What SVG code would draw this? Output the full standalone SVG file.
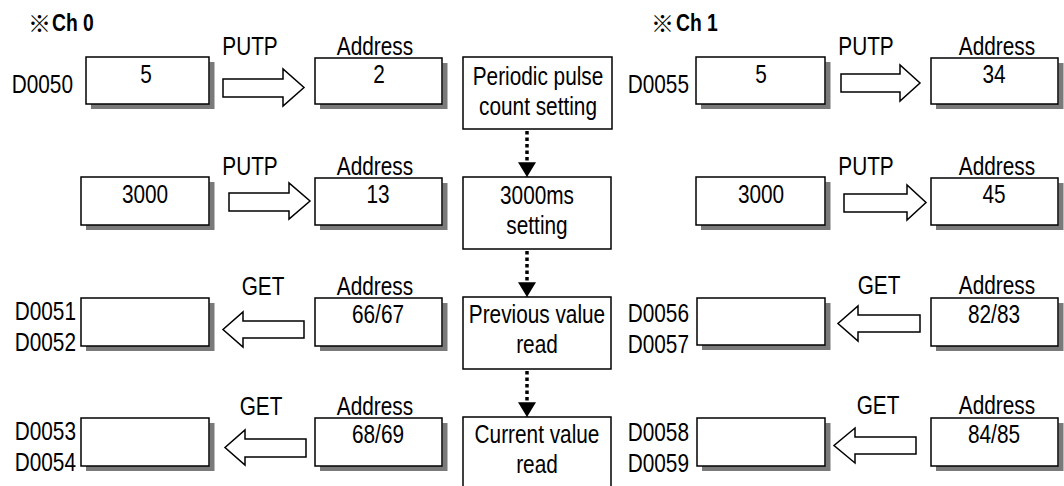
<svg xmlns="http://www.w3.org/2000/svg" width="1064" height="486" viewBox="0 0 1064 486">
<style>
.t{font-family:"Liberation Sans",Arial,sans-serif;font-size:26px;fill:#000}
.m{text-anchor:middle}
.e{text-anchor:end}
.b{font-weight:bold;font-size:23px}
.k{font-family:"Noto Sans CJK JP","Noto Sans CJK SC",sans-serif;font-size:23px;font-weight:bold;fill:#000}
.box{fill:#fff;stroke:#000;stroke-width:1.5}
.sd{fill:none;stroke:#7a7a7a;stroke-width:5}
.ar{fill:#fff;stroke:#000;stroke-width:1.5;stroke-linejoin:miter}
.dot{stroke:#000;stroke-width:3.5;stroke-dasharray:3.5 3;fill:none}
</style>
<defs>
<marker id="tri" markerUnits="userSpaceOnUse" markerWidth="16" markerHeight="18" refX="14" refY="8.5" orient="auto" viewBox="0 0 14 17">
<path d="M0,0 L14,8.5 L0,17 Z" fill="#000"/>
</marker>
</defs>
<rect width="1064" height="486" fill="#fff"/>

<g id="title0">
<text class="k" x="28" y="32">※</text>
<text class="t b" transform="translate(52 31) scale(0.84 1)">Ch 0</text>
</g>
<g id="title1">
<text class="k" x="651" y="32">※</text>
<text class="t b" transform="translate(676 31) scale(0.84 1)">Ch 1</text>
</g>

<!-- Ch 0 row 1 -->
<g id="d0050">
<path class="sd" d="M212,62 V106.5 H91"/>
<rect class="box" x="86" y="57" width="123" height="47"/>
<text class="t e" transform="translate(73 93) scale(0.8 1)">D0050</text>
<text class="t m" transform="translate(146 83) scale(0.8 1)">5</text>
</g>
<g id="addr2">
<path class="sd" d="M445,63 V106.5 H320"/>
<rect class="box" x="315" y="58" width="127" height="46"/>
<text class="t m" transform="translate(375 55) scale(0.8 1)">Address</text>
<text class="t m" transform="translate(379 83) scale(0.8 1)">2</text>
</g>
<!-- Ch 0 row 2 -->
<g id="v3000a">
<path class="sd" d="M212,182 V227.5 H86"/>
<rect class="box" x="81" y="177" width="128" height="48"/>
<text class="t m" transform="translate(145 203) scale(0.8 1)">3000</text>
</g>
<g id="addr13">
<path class="sd" d="M445,183 V227.5 H320"/>
<rect class="box" x="315" y="178" width="127" height="47"/>
<text class="t m" transform="translate(375 175) scale(0.8 1)">Address</text>
<text class="t m" transform="translate(378 203) scale(0.8 1)">13</text>
</g>
<!-- Ch 0 row 3 -->
<g id="d0051">
<path class="sd" d="M212,303 V348.5 H86"/>
<rect class="box" x="81" y="298" width="128" height="48"/>
<text class="t e" transform="translate(76 320) scale(0.8 1)">D0051</text>
<text class="t e" transform="translate(76 351) scale(0.8 1)">D0052</text>
</g>
<g id="addr66">
<path class="sd" d="M445,303 V348.5 H320"/>
<rect class="box" x="315" y="298" width="127" height="48"/>
<text class="t m" transform="translate(375 295) scale(0.8 1)">Address</text>
<text class="t m" transform="translate(378 323) scale(0.8 1)">66/67</text>
</g>
<!-- Ch 0 row 4 -->
<g id="d0053">
<path class="sd" d="M212,423 V468.5 H86"/>
<rect class="box" x="81" y="418" width="128" height="48"/>
<text class="t e" transform="translate(76 440) scale(0.8 1)">D0053</text>
<text class="t e" transform="translate(76 471) scale(0.8 1)">D0054</text>
</g>
<g id="addr68">
<path class="sd" d="M445,423 V468.5 H320"/>
<rect class="box" x="315" y="418" width="127" height="48"/>
<text class="t m" transform="translate(375 415) scale(0.8 1)">Address</text>
<text class="t m" transform="translate(378 443) scale(0.8 1)">68/69</text>
</g>

<!-- Process steps -->
<g id="step1">
<rect class="box" x="463" y="57" width="149" height="72"/>
<text class="t m" transform="translate(538 85) scale(0.8 1)">Periodic pulse</text>
<text class="t m" transform="translate(538 115) scale(0.8 1)">count setting</text>
</g>
<g id="step2">
<rect class="box" x="463" y="177" width="148" height="72"/>
<text class="t m" transform="translate(537 204) scale(0.8 1)">3000ms</text>
<text class="t m" transform="translate(537 234) scale(0.8 1)">setting</text>
</g>
<g id="step3">
<rect class="box" x="463" y="297" width="148" height="72"/>
<text class="t m" transform="translate(537 323) scale(0.8 1)">Previous value</text>
<text class="t m" transform="translate(537 353) scale(0.8 1)">read</text>
</g>
<g id="step4">
<rect class="box" x="463" y="417" width="148" height="72"/>
<text class="t m" transform="translate(537 443) scale(0.8 1)">Current value</text>
<text class="t m" transform="translate(537 473) scale(0.8 1)">read</text>
</g>

<!-- Ch 1 row 1 -->
<g id="d0055">
<path class="sd" d="M828,62 V106.5 H701"/>
<rect class="box" x="696" y="57" width="129" height="47"/>
<text class="t e" transform="translate(689 93) scale(0.8 1)">D0055</text>
<text class="t m" transform="translate(761 83) scale(0.8 1)">5</text>
</g>
<g id="addr34">
<path class="sd" d="M1061,63 V106.5 H936"/>
<rect class="box" x="931" y="58" width="127" height="46"/>
<text class="t m" transform="translate(997 55) scale(0.8 1)">Address</text>
<text class="t m" transform="translate(994 83) scale(0.8 1)">34</text>
</g>
<!-- Ch 1 row 2 -->
<g id="v3000b">
<path class="sd" d="M828,182 V227.5 H701"/>
<rect class="box" x="696" y="177" width="129" height="48"/>
<text class="t m" transform="translate(761 203) scale(0.8 1)">3000</text>
</g>
<g id="addr45">
<path class="sd" d="M1061,183 V227.5 H936"/>
<rect class="box" x="931" y="178" width="127" height="47"/>
<text class="t m" transform="translate(997 175) scale(0.8 1)">Address</text>
<text class="t m" transform="translate(994 203) scale(0.8 1)">45</text>
</g>
<!-- Ch 1 row 3 -->
<g id="d0056">
<path class="sd" d="M828,303 V347.5 H702"/>
<rect class="box" x="697" y="298" width="128" height="47"/>
<text class="t e" transform="translate(689 322) scale(0.8 1)">D0056</text>
<text class="t e" transform="translate(689 353) scale(0.8 1)">D0057</text>
</g>
<g id="addr82">
<path class="sd" d="M1061,303 V348.5 H936"/>
<rect class="box" x="931" y="298" width="127" height="48"/>
<text class="t m" transform="translate(997 294) scale(0.8 1)">Address</text>
<text class="t m" transform="translate(994 323) scale(0.8 1)">82/83</text>
</g>
<!-- Ch 1 row 4 -->
<g id="d0058">
<path class="sd" d="M828,423 V468.5 H702"/>
<rect class="box" x="697" y="418" width="128" height="48"/>
<text class="t e" transform="translate(689 441) scale(0.8 1)">D0058</text>
<text class="t e" transform="translate(689 472) scale(0.8 1)">D0059</text>
</g>
<g id="addr84">
<path class="sd" d="M1061,423 V468.5 H936"/>
<rect class="box" x="931" y="418" width="127" height="48"/>
<text class="t m" transform="translate(997 414) scale(0.8 1)">Address</text>
<text class="t m" transform="translate(994 443) scale(0.8 1)">84/85</text>
</g>

<g id="connectors">
<!-- PUTP / GET block arrows -->
<polygon class="ar" points="223,79 283,79 283,69 304,87.5 283,106 283,97 223,97"/>
<text class="t m" transform="translate(250 55) scale(0.8 1)">PUTP</text>
<polygon class="ar" points="229,193 289,193 289,183 310,201 289,219 289,211 229,211"/>
<text class="t m" transform="translate(250 175) scale(0.8 1)">PUTP</text>
<polygon class="ar" points="304,321 243,321 243,312 223,329.5 243,347 243,338 304,338"/>
<text class="t m" transform="translate(263 295) scale(0.8 1)">GET</text>
<polygon class="ar" points="306,439 245,439 245,430 225,447.5 245,465 245,457 306,457"/>
<text class="t m" transform="translate(261 415) scale(0.8 1)">GET</text>

<polygon class="ar" points="841,74 900,74 900,65 920,83 900,101 900,92 841,92"/>
<text class="t m" transform="translate(866 55) scale(0.8 1)">PUTP</text>
<polygon class="ar" points="844,194 907,194 907,185 926,202.5 907,220 907,212 844,212"/>
<text class="t m" transform="translate(866 175) scale(0.8 1)">PUTP</text>
<polygon class="ar" points="920,315 858,315 858,306 838,323.5 858,341 858,332 920,332"/>
<text class="t m" transform="translate(879 294) scale(0.8 1)">GET</text>
<polygon class="ar" points="916,437 855,437 855,428 834,445.5 855,463 855,454 916,454"/>
<text class="t m" transform="translate(878 414) scale(0.8 1)">GET</text>

<!-- dotted flow arrows -->
<line class="dot" x1="527" y1="131" x2="527" y2="177" marker-end="url(#tri)"/>
<line class="dot" x1="527" y1="251" x2="527" y2="297" marker-end="url(#tri)"/>
<line class="dot" x1="527" y1="371" x2="527" y2="417" marker-end="url(#tri)"/>
</g>
</svg>
